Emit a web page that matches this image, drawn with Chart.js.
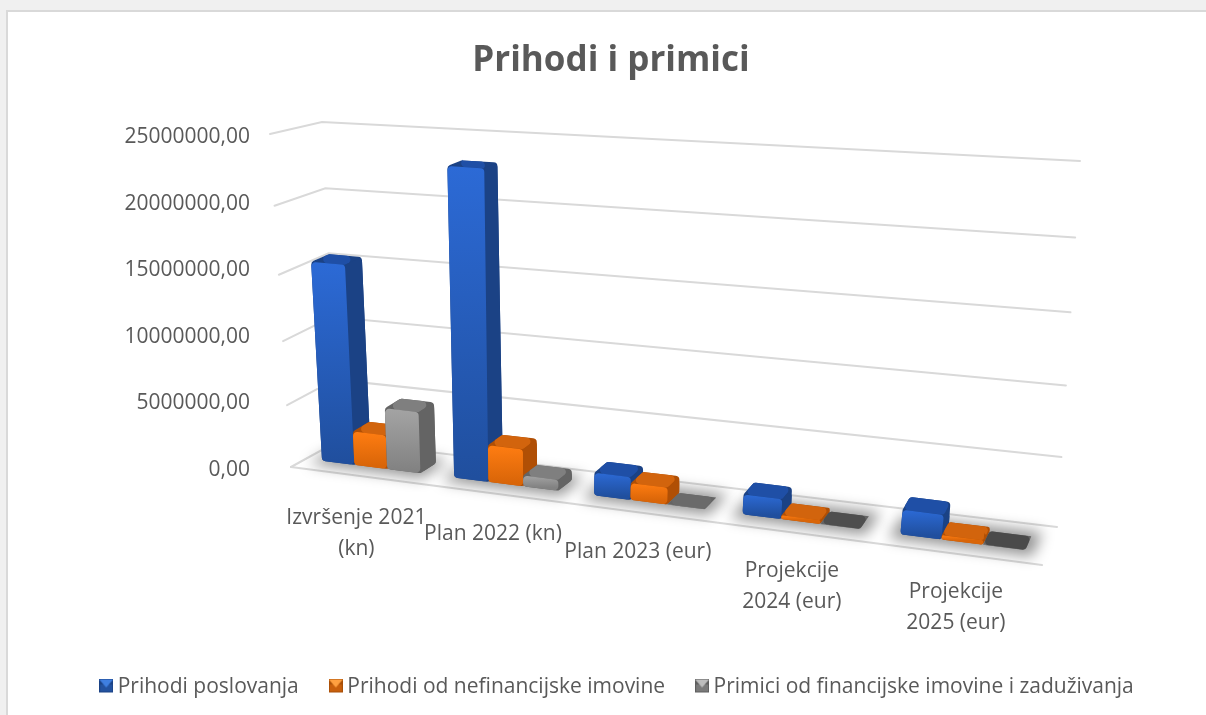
<!DOCTYPE html>
<html>
<head>
<meta charset="utf-8">
<title>Prihodi i primici</title>
<style>
    html, body { margin: 0; padding: 0; background: #f0f0f0; overflow: hidden; }
    #panel { position: absolute; left: 6px; top: 10px; width: 1200px; height: 705px; background: #fff;
        border-left: 2px solid #d9d9d9; border-top: 2px solid #d9d9d9; box-sizing: border-box; }
    #myChart { position: absolute; left: 0; top: 0; }
</style>
<script src="https://cdn.jsdelivr.net/npm/chart.js@4/dist/chart.umd.min.js"></script>
</head>
<body>
<div id="panel"></div>
<canvas id="myChart" width="1206" height="715"></canvas>
<script>
// Chart data
var categories = [['Izvršenje 2021', '(kn)'], ['Plan 2022 (kn)'], ['Plan 2023 (eur)'], ['Projekcije', '2024 (eur)'], ['Projekcije', '2025 (eur)']];
var prihodiPoslovanja = [15550000, 23150000, 1750000, 1500000, 1800000];
var prihodiNefinancijske = [2700000, 2900000, 1300000, 280000, 320000];
var primiciFinancijske = [4850000, 850000, 20000, 15000, 15000];
var seriesNames = ['Prihodi poslovanja', 'Prihodi od nefinancijske imovine', 'Primici od financijske imovine i zaduživanja'];

var fontName = '"Open Sans", sans-serif';
var textColor = '#595959';
var gridColor = '#d9d9d9';

// Bar face colours per series
var faces = [
    { frontTop: '#2c6ad6', frontBottom: '#204f9e', side: '#1b4285', top: '#1f4fa6' },
    { frontTop: '#ff7d12', frontBottom: '#d96508', side: '#b04f05', top: '#d2640d' },
    { frontTop: '#a4a4a4', frontBottom: '#828282', side: '#646464', top: '#7f7f7f' }
];
var grayTops = ['#7f7f7f', '#7f7f7f', '#6a6a6a', '#4e4e4e', '#4a4a4a'];

// Walls of the 3D box as seen on screen: top-left, top-right, bottom-right, bottom-left
var backWall = [[322, 122], [1080, 161], [1057, 527], [338, 441]];
var frontWall = [[270, 134], [1104, 182], [1042, 565], [291, 467]];
var barFrontDepth = 0.32;
var barBackDepth = 0.68;

function quadMap(q) {
    var dx1 = q[1][0] - q[2][0], dx2 = q[3][0] - q[2][0], sx = q[0][0] - q[1][0] + q[2][0] - q[3][0];
    var dy1 = q[1][1] - q[2][1], dy2 = q[3][1] - q[2][1], sy = q[0][1] - q[1][1] + q[2][1] - q[3][1];
    var den = dx1 * dy2 - dx2 * dy1;
    var g = (sx * dy2 - dx2 * sy) / den;
    var h = (dx1 * sy - sx * dy1) / den;
    var a = q[1][0] - q[0][0] + g * q[1][0], b = q[3][0] - q[0][0] + h * q[3][0];
    var d = q[1][1] - q[0][1] + g * q[1][1], e = q[3][1] - q[0][1] + h * q[3][1];
    return function(u, v) {
        var w = g * u + h * v + 1;
        return [(a * u + b * v + q[0][0]) / w, (d * u + e * v + q[0][1]) / w];
    };
}
var mapBack = quadMap(backWall);
var mapFront = quadMap(frontWall);

// Chart pixel plus depth (0 front, 1 back) to screen position
function project(chart, px, py, depth) {
    var area = chart.chartArea;
    var u = (px - area.left) / (area.right - area.left);
    var v = (py - area.top) / (area.bottom - area.top);
    var f = mapFront(u, v), b = mapBack(u, v);
    return [f[0] + (b[0] - f[0]) * depth, f[1] + (b[1] - f[1]) * depth];
}

function roundedPath(ctx, pts, radius) {
    var n = pts.length;
    ctx.beginPath();
    ctx.moveTo((pts[n - 1][0] + pts[0][0]) / 2, (pts[n - 1][1] + pts[0][1]) / 2);
    for (var i = 0; i < n; i++) {
        var cur = pts[i], next = pts[(i + 1) % n], prev = pts[(i + n - 1) % n];
        var lenA = Math.hypot(next[0] - cur[0], next[1] - cur[1]);
        var lenB = Math.hypot(prev[0] - cur[0], prev[1] - cur[1]);
        ctx.arcTo(cur[0], cur[1], next[0], next[1], Math.min(radius, lenA / 2, lenB / 2));
    }
    ctx.closePath();
}

function fillFace(ctx, pts, radius, fill) {
    roundedPath(ctx, pts, radius);
    ctx.fillStyle = fill;
    ctx.fill();
}

function drawGrid(chart, ctx) {
    var yScale = chart.scales.y;
    var area = chart.chartArea;
    ctx.strokeStyle = gridColor;
    ctx.lineWidth = 2;
    ctx.lineCap = 'round';
    yScale.ticks.forEach(function(tick) {
        var py = yScale.getPixelForValue(tick.value);
        var a = project(chart, area.left, py, 0);
        var b = project(chart, area.left, py, 1);
        var c = project(chart, area.right, py, 1);
        ctx.beginPath();
        ctx.moveTo(a[0], a[1]);
        ctx.lineTo(b[0], b[1]);
        ctx.lineTo(c[0], c[1]);
        ctx.stroke();
    });
    // front edge of the floor
    var s = project(chart, area.left, yScale.getPixelForValue(0), 0);
    var e = project(chart, area.right, yScale.getPixelForValue(0), 0);
    ctx.beginPath();
    ctx.moveTo(s[0], s[1]);
    ctx.lineTo(e[0], e[1]);
    ctx.stroke();
}

function drawFloorShadows(chart, ctx) {
    var first = chart.getDatasetMeta(0).data;
    var last = chart.getDatasetMeta(2).data;
    var base = chart.scales.y.getPixelForValue(0);
    ctx.save();
    ctx.filter = 'blur(7px)';
    ctx.fillStyle = 'rgba(0,0,0,0.42)';
    first.forEach(function(bar, i) {
        var x0 = bar.x - bar.width / 2 - 10;
        var x1 = last[i].x + last[i].width / 2 + 10;
        var pts = [project(chart, x0, base, 0.18), project(chart, x1, base, 0.18),
            project(chart, x1, base, 0.82), project(chart, x0, base, 0.82)];
        ctx.beginPath();
        ctx.moveTo(pts[0][0], pts[0][1]);
        ctx.lineTo(pts[1][0], pts[1][1]);
        ctx.lineTo(pts[2][0], pts[2][1]);
        ctx.lineTo(pts[3][0], pts[3][1]);
        ctx.closePath();
        ctx.fill();
    });
    ctx.restore();
}

function drawBar(chart, ctx, bar, face, topColor) {
    var x0 = bar.x - bar.width / 2, x1 = bar.x + bar.width / 2;
    var ftl = project(chart, x0, bar.y, barFrontDepth), ftr = project(chart, x1, bar.y, barFrontDepth);
    var fbr = project(chart, x1, bar.base, barFrontDepth), fbl = project(chart, x0, bar.base, barFrontDepth);
    var btl = project(chart, x0, bar.y, barBackDepth), btr = project(chart, x1, bar.y, barBackDepth);
    var bbr = project(chart, x1, bar.base, barBackDepth);

    fillFace(ctx, [ftl, btl, btr, bbr, fbr, fbl], 4, face.side);
    fillFace(ctx, [ftl, ftr, btr, btl], 4, topColor);
    fillFace(ctx, [ftr, btr, bbr, fbr], 3, face.side);

    var grad = ctx.createLinearGradient(0, ftl[1], 0, fbl[1] + 1);
    grad.addColorStop(0, face.frontTop);
    grad.addColorStop(1, face.frontBottom);
    fillFace(ctx, [ftl, ftr, fbr, fbl], 4, grad);
}

function drawCategoryLabels(chart, ctx) {
    var xScale = chart.scales.x;
    var base = chart.scales.y.getPixelForValue(0);
    ctx.save();
    ctx.font = '21px ' + fontName;
    ctx.fillStyle = textColor;
    ctx.textAlign = 'center';
    ctx.textBaseline = 'middle';
    categories.forEach(function(lines, i) {
        var p = project(chart, xScale.getPixelForValue(i), base, 0);
        lines.forEach(function(line, n) {
            ctx.fillText(line, p[0], p[1] + 42 - i + n * 31);
        });
    });
    ctx.restore();
}

// Everything on the plot goes through this plugin because of the 3D look
var box3d = {
    id: 'box3d',
    afterLayout: function(chart) {
        chart.legend.left += 8.5;
        chart.legend.right += 8.5;
        chart.legend.top -= 7;
        chart.legend.bottom -= 7;
    },
    beforeDatasetsDraw: function(chart) {
        var ctx = chart.ctx;
        ctx.save();
        drawGrid(chart, ctx);
        drawFloorShadows(chart, ctx);
        categories.forEach(function(c, i) {
            chart.data.datasets.forEach(function(ds, s) {
                var topColor = s === 2 ? grayTops[i] : faces[s].top;
                drawBar(chart, ctx, chart.getDatasetMeta(s).data[i], faces[s], topColor);
            });
        });
        drawCategoryLabels(chart, ctx);
        ctx.restore();
        return false;
    }
};

// The extra height on the canvas lifts the icon up next to the legend text
function makeIcon(light, mid, dark) {
    var c = document.createElement('canvas');
    c.width = 14;
    c.height = 18;
    var g = c.getContext('2d');
    g.fillStyle = dark;
    g.fillRect(0, 0, 14, 14);
    g.fillStyle = mid;
    g.fillRect(1, 6, 12, 7);
    g.fillStyle = light;
    g.beginPath();
    g.moveTo(0, 1);
    g.lineTo(14, 1);
    g.lineTo(7, 9);
    g.closePath();
    g.fill();
    return c;
}
var icons = [
    makeIcon('#3f7fe0', '#23529f', '#1b4285'),
    makeIcon('#ffa040', '#c85f0c', '#a84f08'),
    makeIcon('#bdbdbd', '#7a7a7a', '#5e5e5e')
];

function renderChart() {
    var ctx = document.getElementById('myChart').getContext('2d');
    new Chart(ctx, {
        type: 'bar',
        data: {
            labels: categories,
            datasets: [
                { label: seriesNames[0], data: prihodiPoslovanja, backgroundColor: faces[0].frontTop },
                { label: seriesNames[1], data: prihodiNefinancijske, backgroundColor: faces[1].frontTop },
                { label: seriesNames[2], data: primiciFinancijske, backgroundColor: faces[2].frontTop }
            ]
        },
        options: {
            responsive: false,
            animation: false,
            layout: { padding: { left: 16, right: 0, top: 0, bottom: 0 } },
            categoryPercentage: 0.75,
            barPercentage: 1,
            scales: {
                x: {
                    grid: { display: false },
                    border: { display: false },
                    ticks: { display: false },
                    afterFit: function(scale) { scale.height = 178; }
                },
                y: {
                    min: 0,
                    max: 25000000,
                    grid: { display: false },
                    border: { display: false },
                    afterFit: function(scale) { scale.width = 246; },
                    ticks: {
                        stepSize: 5000000,
                        padding: 4,
                        color: textColor,
                        font: { family: fontName, size: 21 },
                        callback: function(value) { return value.toFixed(2).replace('.', ','); }
                    }
                }
            },
            plugins: {
                title: {
                    display: true,
                    text: 'Prihodi i primici',
                    color: textColor,
                    font: { family: fontName, size: 35, weight: 'bold' },
                    padding: { top: 40, bottom: 55 }
                },
                legend: {
                    position: 'bottom',
                    labels: {
                        usePointStyle: true,
                        boxWidth: 2,
                        boxHeight: 14,
                        padding: 36,
                        color: textColor,
                        font: { family: fontName, size: 21 },
                        generateLabels: function() {
                            return seriesNames.map(function(name, i) {
                                return { text: name, pointStyle: icons[i], fontColor: textColor, lineWidth: 0, datasetIndex: i };
                            });
                        }
                    }
                },
                tooltip: { enabled: false }
            }
        },
        plugins: [box3d]
    });
}
window.onload = renderChart;
</script>
</body>
</html>
